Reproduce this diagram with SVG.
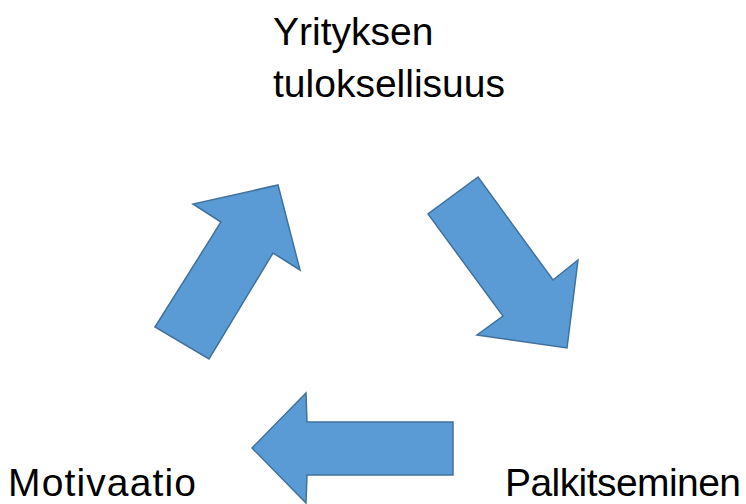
<svg xmlns="http://www.w3.org/2000/svg" width="746" height="504" viewBox="0 0 746 504">
<style>
.arr{fill:#5B9BD5;stroke:#41719C;stroke-width:1.5;stroke-linejoin:miter}
.lbl{font-family:"Liberation Sans","Open Sans",sans-serif;font-size:39px;fill:#000}
</style>
<rect width="746" height="504" fill="#fff"/>
<g id="connectors">
<polygon class="arr" points="155,327 221,222 193,204 278,185 300,270 273,253 209,359"/>
<polygon class="arr" points="478,177 553,280 578,260 567,348 477,335 503,316 428,214"/>
<polygon class="arr" points="453,422 307,422 306,393 252,448 306,503 307,475 453,475"/>
</g>
<g id="node-yritys">
<text class="lbl" x="273" y="45">Yrityksen</text>
<text class="lbl" x="273" y="97" textLength="232">tuloksellisuus</text>
</g>
<g id="node-motivaatio">
<text class="lbl" x="8" y="496" textLength="188">Motivaatio</text>
</g>
<g id="node-palkitseminen">
<text class="lbl" x="505" y="496" textLength="236">Palkitseminen</text>
</g>
</svg>
